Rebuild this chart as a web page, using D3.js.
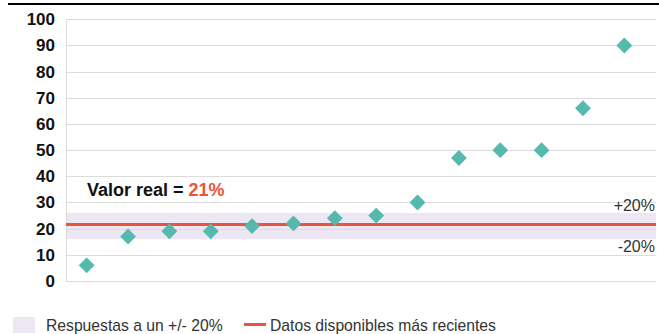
<!DOCTYPE html>
<html><head><meta charset="utf-8">
<script src="https://cdn.jsdelivr.net/npm/d3@7"></script>
<style>
html,body{margin:0;padding:0;background:#fff;}
svg{display:block;font-family:"Liberation Sans",Arial,Helvetica,sans-serif;}
</style></head>
<body>
<svg id="chart" width="659" height="334"></svg>
<script>
const categories = ["1","2","3","4","5","6","7","8","9","10","11","12","13","14"];
const values = [6, 17, 19, 19, 21, 22, 24, 25, 30, 47, 50, 50, 66, 90];
const yTicks = [0, 10, 20, 30, 40, 50, 60, 70, 80, 90, 100];
const realValue = 21;
const bandLow = 16;
const bandHigh = 26;
const bandLabels = ["+20%", "-20%"];
const legendLabels = ["Respuestas a un +/- 20%", "Datos disponibles más recientes"];

(function () {
const svg = d3.select("#chart");
const pL = 66, pR = 656, pT = 19.3, pB = 281;
const teal = "#55b9ad", red = "#e9553a", band = "#ede7f3", grid = "#dcdcdc";

const x = d3.scaleBand().domain(categories).range([pL, 645]).paddingInner(0).paddingOuter(0);
const y = d3.scaleLinear().domain([0, 100]).range([pB, pT]);

// band
svg.append("rect").attr("x", pL).attr("width", pR - pL)
  .attr("y", y(bandHigh)).attr("height", y(bandLow) - y(bandHigh)).attr("fill", band);

// gridlines
svg.append("g").selectAll("line").data(yTicks).join("line")
  .attr("x1", pL).attr("x2", pR)
  .attr("y1", d => Math.round(y(d)) + 0.5).attr("y2", d => Math.round(y(d)) + 0.5)
  .attr("stroke", grid).attr("stroke-width", 1);
svg.append("line").attr("x1", pL + 0.5).attr("x2", pL + 0.5).attr("y1", y(100)).attr("y2", y(0))
  .attr("stroke", grid).attr("stroke-width", 1);

// y axis labels
const yAxis = d3.axisLeft(y).tickValues(yTicks).tickSize(0).tickPadding(0).tickFormat(d3.format("d"));
const ga = svg.append("g").attr("transform", `translate(55,0)`).call(yAxis);
ga.select(".domain").remove();
ga.selectAll("text").attr("font-size", 17).attr("font-weight", "bold").attr("fill", "#111")
  .attr("font-family", "'Liberation Sans',Arial,sans-serif");

// real value line
svg.append("line").attr("x1", pL).attr("x2", pR)
  .attr("y1", y(realValue) - 1.5).attr("y2", y(realValue) - 1.5)
  .attr("stroke", red).attr("stroke-width", 3);

// band labels
svg.append("text").attr("x", 655).attr("y", 211).attr("text-anchor", "end")
  .attr("font-size", 16).attr("fill", "#333").text(bandLabels[0]);
svg.append("text").attr("x", 655).attr("y", 252).attr("text-anchor", "end")
  .attr("font-size", 16).attr("fill", "#333").text(bandLabels[1]);

// diamonds
const diamond = d3.symbol().type(d3.symbolSquare).size(125);
svg.append("g").selectAll("path").data(values).join("path")
  .attr("d", diamond)
  .attr("transform", (d, i) => `translate(${x(categories[i]) + x.bandwidth() / 2},${y(d)}) rotate(45)`)
  .attr("fill", teal);

// Valor real label
const t = svg.append("text").attr("x", 87).attr("y", 196).attr("font-size", 18).attr("font-weight", "bold").attr("fill", "#111");
t.append("tspan").text("Valor real = ");
t.append("tspan").attr("fill", red).text(realValue + "%");

// legend
svg.append("rect").attr("x", 13).attr("y", 317).attr("width", 22).attr("height", 16).attr("fill", band);
svg.append("text").attr("x", 46).attr("y", 331).attr("font-size", 15.7).attr("fill", "#333").text(legendLabels[0]);
svg.append("line").attr("x1", 244).attr("x2", 266).attr("y1", 324.5).attr("y2", 324.5)
  .attr("stroke", red).attr("stroke-width", 3);
svg.append("text").attr("x", 270).attr("y", 331).attr("font-size", 15.7).attr("fill", "#333").text(legendLabels[1]);

// top rule
svg.append("rect").attr("x", 8).attr("y", 3).attr("width", 651).attr("height", 2).attr("fill", "#000");
})();
</script>
</body></html>
